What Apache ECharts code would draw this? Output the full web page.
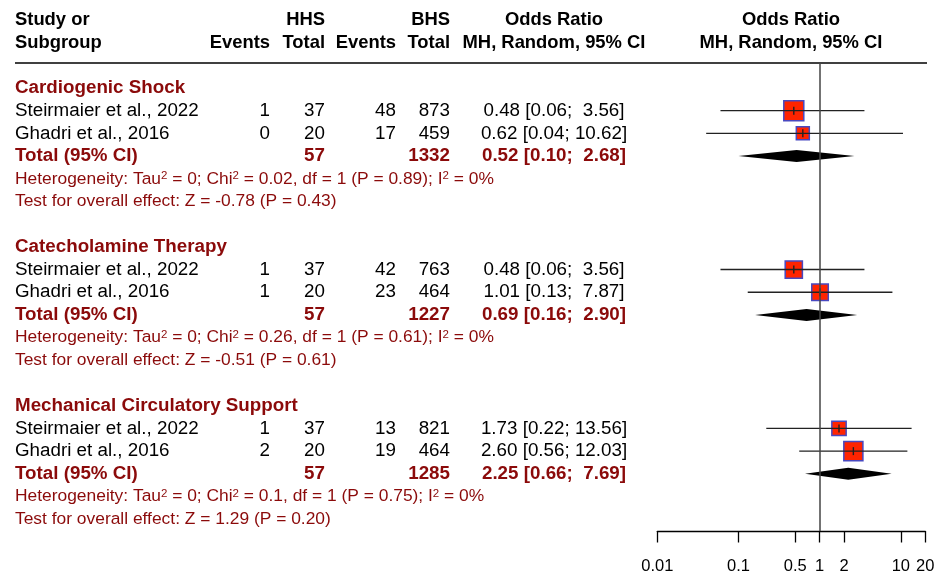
<!DOCTYPE html>
<html><head><meta charset="utf-8">
<script src="https://cdn.jsdelivr.net/npm/echarts@6/dist/echarts.min.js"></script>
<style>html,body{margin:0;padding:0;background:#fff}#c{width:944px;height:575px}</style>
</head><body><div id="c"></div>
<script>
// ---------------- DATA ----------------
const subgroups = ['Cardiogenic Shock', 'Catecholamine Therapy', 'Mechanical Circulatory Support'];
const studies = ['Steirmaier et al., 2022', 'Ghadri et al., 2016'];
const hhsEvents = [[1, 0], [1, 1], [1, 2]];
const hhsTotal = [[37, 20], [37, 20], [37, 20]];
const bhsEvents = [[48, 17], [42, 23], [13, 19]];
const bhsTotal = [[873, 459], [763, 464], [821, 464]];
const studyOR = [[0.48, 0.62], [0.48, 1.01], [1.73, 2.60]];
const studyLo = [[0.06, 0.04], [0.06, 0.13], [0.22, 0.56]];
const studyHi = [[3.56, 10.62], [3.56, 7.87], [13.56, 12.03]];
const studyWeight = [[70.3, 29.7], [52, 48], [36, 64]];
const totalHHS = [57, 57, 57];
const totalBHS = [1332, 1227, 1285];
const pooledOR = [0.52, 0.69, 2.25];
const pooledLo = [0.10, 0.16, 0.66];
const pooledHi = [2.68, 2.90, 7.69];
const tau2 = ['0', '0', '0'];
const chi2 = ['0.02', '0.26', '0.1'];
const dfHet = ['1', '1', '1'];
const pHet = ['0.89', '0.61', '0.75'];
const i2 = ['0%', '0%', '0%'];
const zVal = ['-0.78', '-0.51', '1.29'];
const pZ = ['0.43', '0.61', '0.20'];
const axisTicks = [0.01, 0.1, 0.5, 1, 2, 10, 20];
const nullEffect = 1;

// ---------------- LAYOUT ----------------
const FONT = 'Liberation Sans, Arial, sans-serif';
const RED = '#8b0a0a';
const colX = { study: 15, hhsEv: 270, hhsTot: 325, bhsEv: 396, bhsTot: 450, or: 554, plot: 791 };
const groupRows = 7;
const mainSize = 18.8, hetSize = 17.4, headSize = 18.4;

function pad5(v) { let s = v.toFixed(2); while (s.length < 5) s = ' ' + s; return s; }
function orText(e, l, h) { return e.toFixed(2) + ' [' + l.toFixed(2) + '; ' + pad5(h) + ']'; }

// text cells
const cells = [];
function cell(row, x, align, text, kind) { cells.push({ row, x, align, text, kind }); }
cell(-3, colX.study, 'left', 'Study or', 'head');
cell(-2, colX.study, 'left', 'Subgroup', 'head');
cell(-3, colX.hhsTot, 'right', 'HHS', 'head');
cell(-3, colX.bhsTot, 'right', 'BHS', 'head');
cell(-2, colX.hhsEv, 'right', 'Events', 'head');
cell(-2, colX.hhsTot, 'right', 'Total', 'head');
cell(-2, colX.bhsEv, 'right', 'Events', 'head');
cell(-2, colX.bhsTot, 'right', 'Total', 'head');
cell(-3, colX.or, 'center', 'Odds Ratio', 'head');
cell(-2, colX.or, 'center', 'MH, Random, 95% CI', 'head');
cell(-3, colX.plot, 'center', 'Odds Ratio', 'head');
cell(-2, colX.plot, 'center', 'MH, Random, 95% CI', 'head');

const studyPts = [];
const pooledPts = [];
subgroups.forEach((g, gi) => {
  const base = gi * groupRows;
  cell(base, colX.study, 'left', g, 'title');
  studies.forEach((s, si) => {
    const r = base + 1 + si;
    cell(r, colX.study, 'left', s, 'body');
    cell(r, colX.hhsEv, 'right', String(hhsEvents[gi][si]), 'body');
    cell(r, colX.hhsTot, 'right', String(hhsTotal[gi][si]), 'body');
    cell(r, colX.bhsEv, 'right', String(bhsEvents[gi][si]), 'body');
    cell(r, colX.bhsTot, 'right', String(bhsTotal[gi][si]), 'body');
    cell(r, colX.or, 'center', orText(studyOR[gi][si], studyLo[gi][si], studyHi[gi][si]), 'body');
    studyPts.push([studyOR[gi][si], studyLo[gi][si], studyHi[gi][si], r, studyWeight[gi][si]]);
  });
  const rt = base + 3;
  cell(rt, colX.study, 'left', 'Total (95% CI)', 'total');
  cell(rt, colX.hhsTot, 'right', String(totalHHS[gi]), 'total');
  cell(rt, colX.bhsTot, 'right', String(totalBHS[gi]), 'total');
  cell(rt, colX.or, 'center', orText(pooledOR[gi], pooledLo[gi], pooledHi[gi]), 'total');
  pooledPts.push([pooledOR[gi], pooledLo[gi], pooledHi[gi], rt]);
  cell(base + 4, colX.study, 'left',
    'Heterogeneity: Tau{s|2} = ' + tau2[gi] + '; Chi{s|2} = ' + chi2[gi] + ', df = ' + dfHet[gi] +
    ' (P = ' + pHet[gi] + '); I{s|2} = ' + i2[gi], 'het');
  cell(base + 5, colX.study, 'left',
    'Test for overall effect: Z = ' + zVal[gi] + ' (P = ' + pZ[gi] + ')', 'het');
});

const kindStyle = {
  head: { fill: '#000', fontWeight: 'bold', fontSize: headSize },
  title: { fill: RED, fontWeight: 'bold', fontSize: mainSize },
  body: { fill: '#000', fontWeight: 'normal', fontSize: mainSize },
  total: { fill: RED, fontWeight: 'bold', fontSize: mainSize },
  het: { fill: RED, fontWeight: 'normal', fontSize: hetSize }
};

const chart = echarts.init(document.getElementById('c'), null, { renderer: 'canvas' });
const sqScale = 2.385;

chart.setOption({
  backgroundColor: '#fff',
  animation: false,
  grid: [
    { left: 657.3, width: 268, top: 63, height: 468 },
    { left: 0, width: 944, top: 0, height: 531 }
  ],
  xAxis: [
    {
      gridIndex: 0, type: 'log', logBase: 10, min: 0.01, max: 20,
      axisLine: { show: true, onZero: false, lineStyle: { color: '#000', width: 1.3 } },
      axisTick: { show: true, inside: false, length: 11.5, customValues: axisTicks, lineStyle: { color: '#000', width: 1.3 } },
      axisLabel: { show: true, customValues: axisTicks, margin: 27, color: '#000', fontSize: 16.5, fontFamily: FONT,
        formatter: v => String(v) },
      splitLine: { show: false }, minorTick: { show: false }
    },
    { gridIndex: 1, type: 'value', min: 0, max: 944, show: false }
  ],
  yAxis: [
    { gridIndex: 0, type: 'value', inverse: true, min: -1.1, max: 19.52, show: false },
    { gridIndex: 1, type: 'value', inverse: true, min: -3.876, max: 19.52, show: false }
  ],
  graphic: [
    { type: 'line', shape: { x1: 15, y1: 63, x2: 927, y2: 63 }, style: { stroke: '#000', lineWidth: 1.3 }, silent: true }
  ],
  series: [
    {
      type: 'custom', name: 'table', xAxisIndex: 1, yAxisIndex: 1, silent: true,
      data: cells.map((c, i) => [c.x, c.row, i]),
      renderItem: (params, api) => {
        const c = cells[api.value(2)];
        const p = api.coord([api.value(0), api.value(1)]);
        const ks = kindStyle[c.kind];
        const st = {
          text: c.text, fill: ks.fill, fontFamily: FONT, fontSize: ks.fontSize, fontWeight: ks.fontWeight,
          align: c.align, verticalAlign: 'middle'
        };
        if (c.kind === 'het') {
          st.lineHeight = 18;
          st.rich = { s: { fontSize: 11.5, lineHeight: 14, verticalAlign: 'top', fill: ks.fill, fontFamily: FONT } };
        }
        return { type: 'text', x: p[0], y: p[1], style: st };
      }
    },
    {
      type: 'custom', name: 'studies', xAxisIndex: 0, yAxisIndex: 0, silent: true,
      data: studyPts,
      encode: { x: [0, 1, 2], y: 3 },
      renderItem: (params, api) => {
        const row = api.value(3);
        const pE = api.coord([api.value(0), row]);
        const pL = api.coord([api.value(1), row]);
        const pH = api.coord([api.value(2), row]);
        const s = sqScale * Math.sqrt(api.value(4));
        return {
          type: 'group', children: [
            { type: 'rect', shape: { x: pE[0] - s / 2, y: pE[1] - s / 2, width: s, height: s },
              style: { fill: '#ff2400', stroke: '#4848c0', lineWidth: 1.5 } },
            { type: 'line', shape: { x1: pL[0], y1: pL[1], x2: pH[0], y2: pH[1] },
              style: { stroke: '#222', lineWidth: 1.4 } },
            { type: 'line', shape: { x1: pE[0], y1: pE[1] - 4, x2: pE[0], y2: pE[1] + 4 },
              style: { stroke: '#222', lineWidth: 1.4 } }
          ]
        };
      },
      markLine: {
        silent: true, symbol: 'none', label: { show: false },
        lineStyle: { color: '#444', width: 1.5, type: 'solid' },
        data: [{ xAxis: nullEffect }]
      }
    },
    {
      type: 'custom', name: 'pooled', xAxisIndex: 0, yAxisIndex: 0, silent: true,
      data: pooledPts,
      encode: { x: [0, 1, 2], y: 3 },
      renderItem: (params, api) => {
        const row = api.value(3);
        const pE = api.coord([api.value(0), row]);
        const pL = api.coord([api.value(1), row]);
        const pH = api.coord([api.value(2), row]);
        const h = 6;
        return {
          type: 'polygon',
          shape: { points: [[pL[0], pE[1]], [pE[0], pE[1] - h], [pH[0], pE[1]], [pE[0], pE[1] + h]] },
          style: { fill: '#000' }
        };
      }
    }
  ]
});
</script>
</body></html>
